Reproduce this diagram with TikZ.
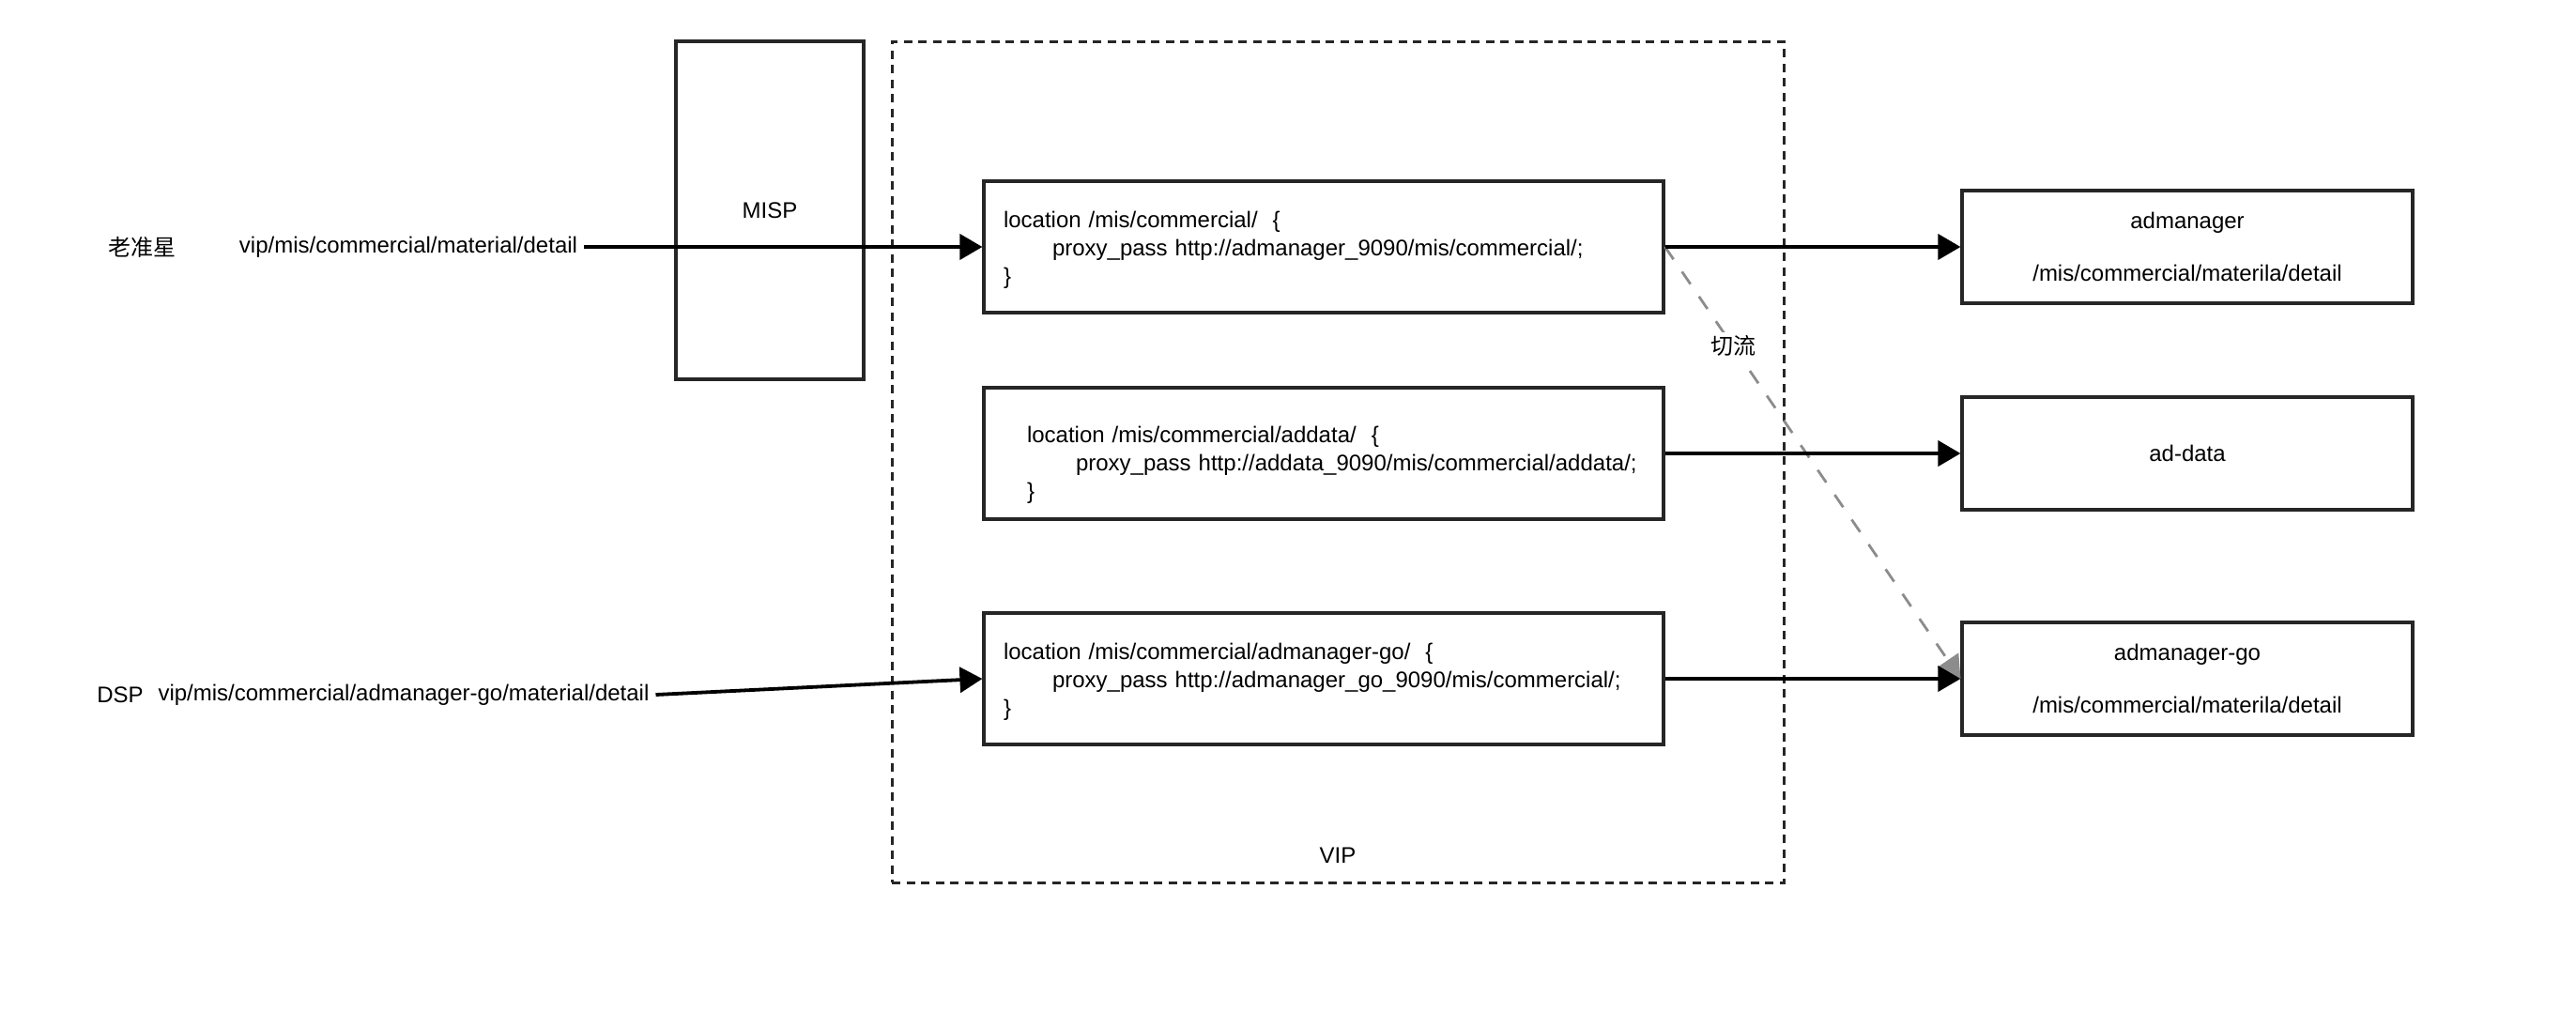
\documentclass[tikz,border=0pt]{standalone}
\usepackage{fontspec}
\setmainfont{Liberation Sans}
\newfontfamily\cjk{Noto Sans CJK SC}
\usetikzlibrary{arrows.meta, positioning}

\begin{document}
\begin{tikzpicture}[x=1pt, y=-1pt,
    every node/.style={font=\fontsize{12}{15}\selectfont},
    box/.style={draw=black!85, line width=1.6pt, align=center},
    codebox/.style={box, minimum height=70pt, text width=341pt, inner xsep=10.5pt, align=left},
    srvbox/.style={box, minimum width=240pt, minimum height=60pt, font=\fontsize{12}{14}\selectfont},
    flow/.style={-{Triangle[length=12pt, width=13.5pt]}, line width=1.9pt},
    cut/.style={-{Triangle[length=12pt, width=13.5pt]}, draw=black!45, line width=1.4pt, dash pattern=on 8pt off 8pt}
]
    \useasboundingbox (0,0) rectangle (1372,538.5);

    % Callers
    \node (lzx) at (75.5,131.5) {\cjk 老准星};
    \node (lzxurl) at (217.5,131.5) {vip/mis/commercial/material/detail};
    \node (dsp) at (64,370) {DSP};
    \node (dspurl) at (215,370) {vip/mis/commercial/admanager-go/material/detail};

    % MISP and VIP
    \node[box, minimum width=100pt, minimum height=180pt] (misp) at (410,112) {MISP};
    \node[draw=black!85, line width=1.5pt, dash pattern=on 4.5pt off 3.25pt, minimum width=475pt, minimum height=448pt] (vip) at (712.5,246) {};
    \node (viplabel) at ([yshift=15pt]vip.south) {VIP};

    % Locations
    \node[codebox] (loc1) at (705,131.5) {\rule{0pt}{12.3pt}location /mis/commercial/~~\{\\
        \hspace*{26pt}proxy\_pass http://admanager\_9090/mis/commercial/;\\
        \}};
    \node[codebox] (loc2) at (705,241.5) {\rule{0pt}{21.2pt}\hspace*{12.5pt}location /mis/commercial/addata/~~\{\\
        \hspace*{38.5pt}proxy\_pass http://addata\_9090/mis/commercial/addata/;\\
        \hspace*{12.5pt}\}};
    \node[codebox] (loc3) at (705,361.5) {\rule{0pt}{12.3pt}location /mis/commercial/admanager-go/~~\{\\
        \hspace*{26pt}proxy\_pass http://admanager\_go\_9090/mis/commercial/;\\
        \}};

    % Services
    \node[srvbox] (adm) at (1165,131.5) {admanager\\[14pt]/mis/commercial/materila/detail};
    \node[srvbox] (addata) at (1165,241.5) {ad-data};
    \node[srvbox] (admgo) at (1165,361.5) {admanager-go\\[14pt]/mis/commercial/materila/detail};

    % Arrows
    \draw[flow] (lzxurl.east) -- (loc1.west);
    \draw[flow] (dspurl.east) -- (loc3.west);
    \draw[cut] (loc1.east) -- node[pos=0.23, fill=white, inner sep=2pt] {\cjk 切流} (admgo.west);
    \draw[flow] (loc1.east) -- (adm.west);
    \draw[flow] (loc2.east) -- (addata.west);
    \draw[flow] (loc3.east) -- (admgo.west);
\end{tikzpicture}
\end{document}
